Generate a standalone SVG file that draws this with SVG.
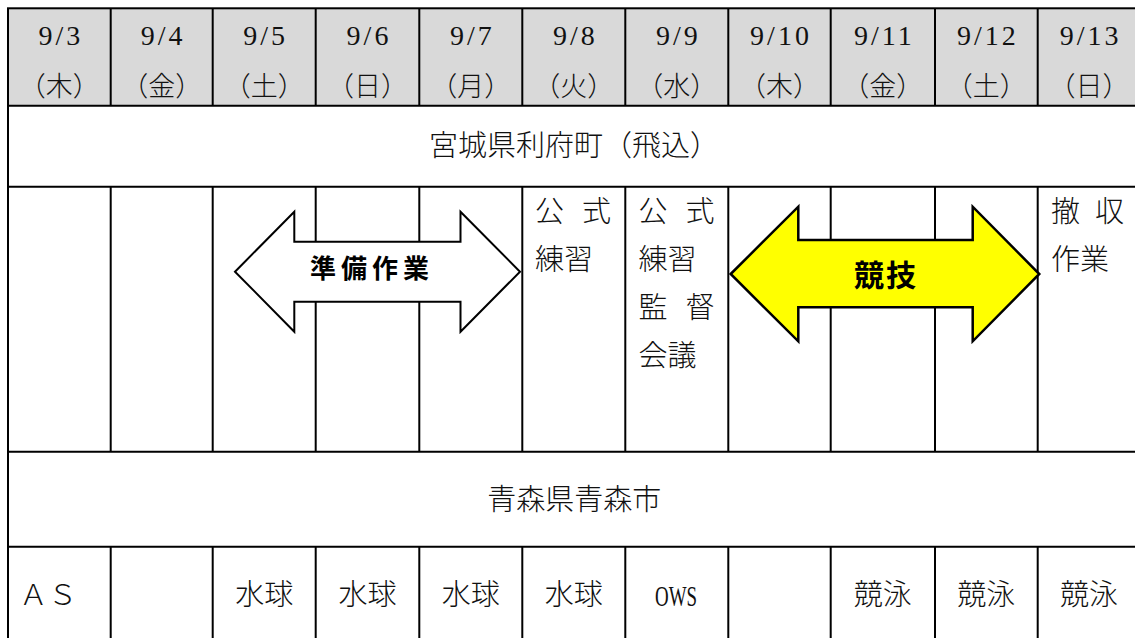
<svg xmlns="http://www.w3.org/2000/svg" width="1135" height="638" viewBox="0 0 1135 638">
  <style>
    .ln{stroke:#000;stroke-width:2;fill:none}
    .hd{fill:#d9d9d9}
    .num{font-family:"Liberation Serif",serif;font-size:28px;fill:#111;text-anchor:middle;letter-spacing:3px}
    .jp{font-family:"Noto Sans CJK JP","Noto Sans CJK SC",sans-serif;font-size:27px;font-weight:300;fill:#111;text-anchor:middle}
    .tx{font-family:"Noto Sans CJK JP","Noto Sans CJK SC",sans-serif;font-size:29px;font-weight:300;fill:#111}
    .c{text-anchor:middle}
    .arr{font-family:"Noto Sans CJK JP","Noto Sans CJK SC",sans-serif;font-weight:bold;fill:#000;text-anchor:middle}
  </style>
  <rect width="1135" height="638" fill="#fff"/>
  <g id="header">
    <rect class="hd" x="8" y="8.3" width="1134" height="97.4"/>
    <text class="num" x="60.8" y="45">9/3</text>
    <text class="num" x="163.2" y="45">9/4</text>
    <text class="num" x="265.7" y="45">9/5</text>
    <text class="num" x="369" y="45">9/6</text>
    <text class="num" x="472.3" y="45">9/7</text>
    <text class="num" x="575.3" y="45">9/8</text>
    <text class="num" x="678.3" y="45">9/9</text>
    <text class="num" x="781" y="45">9/10</text>
    <text class="num" x="884.3" y="45">9/11</text>
    <text class="num" x="987.8" y="45">9/12</text>
    <text class="num" x="1090.6" y="45">9/13</text>
    <text class="jp" x="59.3" y="96">（木）</text>
    <text class="jp" x="161.7" y="96">（金）</text>
    <text class="jp" x="264.2" y="96">（土）</text>
    <text class="jp" x="367.5" y="96">（日）</text>
    <text class="jp" x="470.8" y="96">（月）</text>
    <text class="jp" x="573.8" y="96">（火）</text>
    <text class="jp" x="676.8" y="96">（水）</text>
    <text class="jp" x="779.5" y="96">（木）</text>
    <text class="jp" x="882.8" y="96">（金）</text>
    <text class="jp" x="986.3" y="96">（土）</text>
    <text class="jp" x="1089.1" y="96">（日）</text>
  </g>
  <g id="grid">
    <rect class="ln" x="8" y="8.3" width="1134" height="634"/>
    <path class="ln" d="M8,105.7H1142M8,186.7H1142M8,451.7H1142M8,546.7H1142"/>
    <path class="ln" d="M110.7,8.3V105.7M212.7,8.3V105.7M315.7,8.3V105.7M419.3,8.3V105.7M522.3,8.3V105.7M625.3,8.3V105.7M728.3,8.3V105.7M830.7,8.3V105.7M935,8.3V105.7M1037.7,8.3V105.7"/>
    <path class="ln" d="M110.7,186.7V451.7M212.7,186.7V451.7M315.7,186.7V451.7M419.3,186.7V451.7M522.3,186.7V451.7M625.3,186.7V451.7M728.3,186.7V451.7M830.7,186.7V451.7M935,186.7V451.7M1037.7,186.7V451.7"/>
    <path class="ln" d="M110.7,546.7V640M212.7,546.7V640M315.7,546.7V640M419.3,546.7V640M522.3,546.7V640M625.3,546.7V640M728.3,546.7V640M830.7,546.7V640M935,546.7V640M1037.7,546.7V640"/>
  </g>
  <g id="venue-miyagi">
    <text class="tx c" x="574" y="156">宮城県利府町（飛込）</text>
  </g>
  <g id="cell-0908">
    <text class="tx" x="535" y="222">公</text>
    <text class="tx" x="582" y="222">式</text>
    <text class="tx" x="535" y="270">練習</text>
  </g>
  <g id="cell-0909">
    <text class="tx" x="638.5" y="222">公</text>
    <text class="tx" x="685.5" y="222">式</text>
    <text class="tx" x="638.5" y="270">練習</text>
    <text class="tx" x="638.5" y="318">監</text>
    <text class="tx" x="685.5" y="318">督</text>
    <text class="tx" x="638.5" y="366">会議</text>
  </g>
  <g id="cell-0913">
    <text class="tx" x="1051" y="222">撤</text>
    <text class="tx" x="1095" y="222">収</text>
    <text class="tx" x="1051" y="270">作業</text>
  </g>
  <g id="arrow-prep">
    <path d="M235,271.7L294.3,211.7V241.7H460.5V211.7L520,271.7L460.5,331.7V301.7H294.3V331.7Z" fill="#fff" stroke="#000" stroke-width="2" stroke-linejoin="miter"/>
    <text class="arr" x="372" y="277.5" font-size="26" letter-spacing="5">準備作業</text>
  </g>
  <g id="arrow-comp">
    <path d="M730.7,274L798.3,206.7V240H972.7V206.7L1039.3,274L972.7,341.3V307.3H798.3V341.3Z" fill="#ffff00" stroke="#000" stroke-width="2.5" stroke-linejoin="miter"/>
    <text class="arr" x="886" y="285.5" font-size="30" letter-spacing="2">競技</text>
  </g>
  <g id="venue-aomori">
    <text class="tx c" x="574.2" y="510">青森県青森市</text>
  </g>
  <g id="events">
    <text class="tx" x="19" y="605">ＡＳ</text>
    <text class="tx c" x="264.2" y="605">水球</text>
    <text class="tx c" x="367.5" y="605">水球</text>
    <text class="tx c" x="470.8" y="605">水球</text>
    <text class="tx c" x="573.8" y="605">水球</text>
    <text x="676" y="605.7" font-family="Liberation Serif,serif" font-size="30" fill="#111" text-anchor="middle" textLength="42" lengthAdjust="spacingAndGlyphs">OWS</text>
    <text class="tx c" x="882.8" y="605">競泳</text>
    <text class="tx c" x="986.3" y="605">競泳</text>
    <text class="tx c" x="1089.1" y="605">競泳</text>
  </g>
</svg>
